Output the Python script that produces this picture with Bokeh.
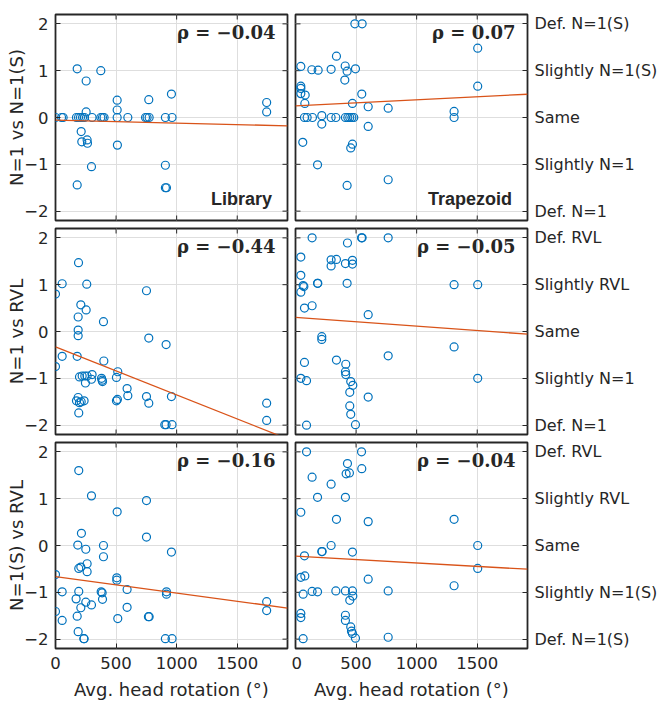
from bokeh.plotting import figure
from bokeh.layouts import gridplot
from bokeh.models import Range1d, FixedTicker, Label
from bokeh.embed import file_html
from bokeh.resources import INLINE

# ---------------- data ----------------
x_ticks = [0, 500, 1000, 1500]
y_ticks = [-2, -1, 0, 1, 2]
X_MAX = 1915
Y_LIM = 2.2

row_titles = ["N=1 vs N=1(S)", "N=1 vs RVL", "N=1(S) vs RVL"]
right_labels = [
    ["Def. N=1", "Slightly N=1", "Same", "Slightly N=1(S)", "Def. N=1(S)"],
    ["Def. N=1", "Slightly N=1", "Same", "Slightly RVL", "Def. RVL"],
    ["Def. N=1(S)", "Slightly N=1(S)", "Same", "Slightly RVL", "Def. RVL"],
]
column_names = ["Library", "Trapezoid"]
x_title = "Avg. head rotation (°)"

rho = [[-0.04, 0.07], [-0.44, -0.05], [-0.16, -0.04]]
fit_intercept = [[-0.057, 0.248], [-0.327, 0.300], [-0.664, -0.229]]
fit_slope = [[-6.3e-5, 1.30e-4], [-1.027e-3, -1.86e-4], [-3.51e-4, -1.45e-4]]

# Library, N=1 vs N=1(S)
lib_a_x = [0, 50, 63, 173, 190, 206, 223, 239, 302, 374, 388, 401, 509, 597, 743, 756, 773, 907, 962,
           179, 374, 253, 957, 509, 770, 1743, 509, 253, 1743, 212, 217, 261, 264, 511, 297, 907, 179, 907, 916]
lib_a_y = [0, 0, 0, 0, 0, 0, 0, 0, 0, 0, 0, 0, 0, 0, 0, 0, 0, 0, 0,
           1.04, 1.0, 0.78, 0.5, 0.37, 0.38, 0.32, 0.16, 0.12, 0.12, -0.3, -0.52, -0.48, -0.55, -0.59,
           -1.05, -1.02, -1.44, -1.5, -1.5]

# Trapezoid, N=1 vs N=1(S)
trap_a_x = [44, 44, 44, 44, 80, 77, 60, 74, 96, 140, 217, 294, 333, 412, 432, 448, 465, 481,
            135, 187, 182, 217, 294, 338, 410, 426, 407, 426, 456, 470, 470, 495, 490, 550, 547,
            600, 600, 765, 765, 1309, 1309, 1504, 1504]
trap_a_y = [1.09, 0.67, 0.62, 0.51, 0.48, 0.30, -0.53, 0, 0, 0, 0.04, 0, 0, 0, 0, 0, 0, 0,
            1.02, 1.01, -1.01, -0.14, 1.03, 1.31, 1.1, 0.99, 0.8, -1.45, -0.65, -0.57, 0.3, 1.04, 2.0, 2.0, 0.5,
            0.23, -0.19, 0.2, -1.33, 0.13, 0, 1.48, 0.67]

# Library, N=1 vs RVL
lib_b_x = [0, 0, 55, 55, 179, 190, 187, 187, 187, 209, 253, 258, 173, 187, 198, 212, 236, 192,
           198, 220, 242, 261, 247, 297, 302, 380, 385, 388, 396, 399, 503, 514, 503, 511, 591, 597,
           751, 770, 751, 770, 913, 902, 913, 957, 962, 1743, 1743]
lib_b_y = [0.8, -0.75, 1.02, -0.53, -0.53, 1.47, 0.31, 0.03, -0.09, 0.57, 0.46, 1.01, -1.48, -1.41, -1.52, -1.5, -1.48, -1.74,
           -0.97, -0.95, -0.95, -0.95, -1.1, -1.02, -0.92, -1.0, -1.04, -1.07, 0.21, -0.63, -0.98, -0.86, -1.48, -1.45, -1.22, -1.37,
           0.87, -0.14, -1.39, -1.53, -0.28, -1.99, -1.99, -1.39, -1.99, -1.53, -1.9]

# Trapezoid, N=1 vs RVL
trap_b_x = [44, 44, 63, 69, 44, 74, 137, 137, 182, 184, 217, 217, 74, 44, 91, 91, 294, 294, 338, 338,
            412, 429, 426, 470, 470, 415, 412, 415, 456, 473, 448, 448, 456, 495, 545, 550, 600, 600,
            765, 765, 1309, 1309, 1504, 1504]
trap_b_y = [1.59, 1.2, 0.98, 0.96, 0.84, 0.5, 0.55, 2.0, 1.03, 1.03, -0.11, -0.17, -0.66, -1.0, -1.05, -2.0, 1.53, 1.4, 1.54, -0.61,
            1.45, 1.89, 1.03, 1.52, 1.44, -0.7, -0.86, -0.92, -1.07, -1.15, -1.3, -1.59, -1.77, -1.99, 2.0, 2.0, 0.36, -1.4,
            2.0, -0.52, 1.0, -0.33, 1.0, -1.0]

# Library, N=1(S) vs RVL
lib_c_x = [0, 0, 55, 55, 192, 297, 214, 184, 250, 192, 209, 261, 261, 192, 170, 209, 250, 297, 179, 187,
           234, 236, 396, 396, 377, 385, 388, 509, 506, 506, 514, 591, 591, 751, 751, 767, 773, 916, 916,
           907, 957, 962, 1743, 1743]
lib_c_y = [-0.62, -1.41, -0.99, -1.6, 1.6, 1.06, 0.26, 0.01, -0.08, -0.49, -0.46, -0.39, -0.56, -0.98, -1.14, -1.33, -1.21, -1.27, -1.51, -1.84,
           -1.99, -1.99, 0.0, -0.24, -0.99, -1.01, -1.15, 0.72, -0.69, -0.74, -1.56, -0.94, -1.32, 0.96, 0.18, -1.52, -1.52, -0.99, -1.04,
           -1.99, -0.14, -1.99, -1.2, -1.39]

# Trapezoid, N=1(S) vs RVL
trap_c_x = [91, 545, 429, 418, 445, 547, 137, 294, 182, 412, 44, 338, 600, 1309, 294, 1504, 217, 220, 470, 74,
            1504, 44, 77, 600, 1309, 137, 182, 333, 412, 470, 63, 473, 448, 765, 44, 44, 412, 412, 456, 462,
            470, 495, 63, 765]
trap_c_y = [2.0, 2.0, 1.75, 1.53, 1.55, 1.64, 1.46, 1.31, 1.03, 1.03, 0.71, 0.56, 0.51, 0.56, 0.0, 0.0, -0.13, -0.13, -0.14, -0.22,
            -0.49, -0.68, -0.65, -0.72, -0.86, -0.98, -0.99, -0.97, -0.97, -0.97, -1.04, -1.08, -1.17, -0.97, -1.45, -1.54, -1.49, -1.6, -1.74, -1.83,
            -1.88, -1.98, -1.99, -1.96]

panel_x = [[lib_a_x, trap_a_x], [lib_b_x, trap_b_x], [lib_c_x, trap_c_x]]
panel_y = [[lib_a_y, trap_a_y], [lib_b_y, trap_b_y], [lib_c_y, trap_c_y]]

# ---------------- styling ----------------
FONT = "DejaVu Sans"
INK = "#262626"
BLUE = "#0072BD"
ORANGE = "#D95319"
FW, FH = 232, 206
TICK_PX = 5
DX = TICK_PX * X_MAX / FW          # tick length in data units (x)
DY = TICK_PX * 2 * Y_LIM / FH      # tick length in data units (y)


def style_axis(ax, size="16.5px", standoff=7):
    ax.axis_line_color = None
    ax.major_tick_in = TICK_PX
    ax.major_tick_out = 0
    ax.minor_tick_line_color = None
    ax.major_tick_line_color = INK
    ax.major_tick_line_width = 1
    ax.major_label_text_font = FONT
    ax.major_label_text_font_size = size
    ax.major_label_text_color = INK
    ax.major_label_standoff = standoff


def make_panel(r, c):
    left_col = c == 0
    bottom_row = r == 2
    p = figure(
        frame_width=FW, frame_height=FH,
        x_range=Range1d(0, X_MAX), y_range=Range1d(-Y_LIM, Y_LIM),
        output_backend="svg", toolbar_location=None, tools="",
        y_axis_location="left" if left_col else "right",
        min_border_left=55 if left_col else 4,
        min_border_right=4 if left_col else 135,
        min_border_top=14 if r == 0 else 4,
        min_border_bottom=53 if bottom_row else 4,
        background_fill_color="white", border_fill_color="white",
    )
    p.outline_line_color = INK
    p.outline_line_width = 1.8

    # x axis (labels only on bottom row)
    xa = p.xaxis[0]
    if bottom_row:
        xa.ticker = FixedTicker(ticks=x_ticks)
        style_axis(xa, standoff=8)
        xa.axis_label = x_title
        xa.axis_label_text_font = FONT
        xa.axis_label_text_font_size = "18px"
        xa.axis_label_text_font_style = "normal"
        xa.axis_label_text_color = INK
        xa.axis_label_standoff = 7
    else:
        xa.visible = False

    ya = p.yaxis[0]
    ya.ticker = FixedTicker(ticks=y_ticks)
    if left_col:
        style_axis(ya)
        ya.axis_label = row_titles[r]
        ya.axis_label_text_font = FONT
        ya.axis_label_text_font_size = "18px"
        ya.axis_label_text_font_style = "normal"
        ya.axis_label_text_color = INK
        ya.axis_label_standoff = -6
    else:
        style_axis(ya, size="16px", standoff=7)
        ya.major_label_overrides = {t: lab for t, lab in zip(y_ticks, right_labels[r])}

    # grid
    p.xgrid.ticker = FixedTicker(ticks=x_ticks)
    p.ygrid.ticker = FixedTicker(ticks=y_ticks)
    p.xgrid.grid_line_color = "#dedede"
    p.ygrid.grid_line_color = "#dedede"

    # inward box ticks on the unlabeled sides
    p.segment(x0=x_ticks, x1=x_ticks, y0=[Y_LIM] * len(x_ticks), y1=[Y_LIM - DY] * len(x_ticks),
              line_color=INK, line_width=1)
    if not bottom_row:
        p.segment(x0=x_ticks, x1=x_ticks, y0=[-Y_LIM] * len(x_ticks), y1=[-Y_LIM + DY] * len(x_ticks),
                  line_color=INK, line_width=1)
    if left_col:
        p.segment(x0=[X_MAX] * len(y_ticks), x1=[X_MAX - DX] * len(y_ticks), y0=y_ticks, y1=y_ticks,
                  line_color=INK, line_width=1)
    else:
        p.segment(x0=[0] * len(y_ticks), x1=[DX] * len(y_ticks), y0=y_ticks, y1=y_ticks,
                  line_color=INK, line_width=1)

    # marks
    p.scatter(panel_x[r][c], panel_y[r][c], marker="circle", size=8,
              fill_color=None, line_color=BLUE, line_width=1.2)
    fx = [0, X_MAX]
    fy = [fit_intercept[r][c] + fit_slope[r][c] * v for v in fx]
    p.line(fx, fy, line_color=ORANGE, line_width=1.3)

    # annotations
    rt = f"ρ = {rho[r][c]:.2f}".replace("-", "−")
    p.add_layout(Label(x=X_MAX * (1 - 12 / FW), y=Y_LIM - 17.5 * (2 * Y_LIM) / FH, text=rt,
                       text_align="right", text_baseline="middle",
                       text_font="DejaVu Serif", text_font_style="bold",
                       text_font_size="18px", text_color=INK))
    if r == 0:
        p.add_layout(Label(x=X_MAX * (1 - 15.5 / FW), y=-Y_LIM + 22 * (2 * Y_LIM) / FH, text=column_names[c],
                           text_align="right", text_baseline="middle",
                           text_font="Liberation Sans", text_font_style="bold",
                           text_font_size="18px", text_color=INK))
    return p


grid = [[make_panel(r, c) for c in range(2)] for r in range(3)]
layout = gridplot(grid, toolbar_location=None)

open("out.html", "w").write(file_html(layout, INLINE))
